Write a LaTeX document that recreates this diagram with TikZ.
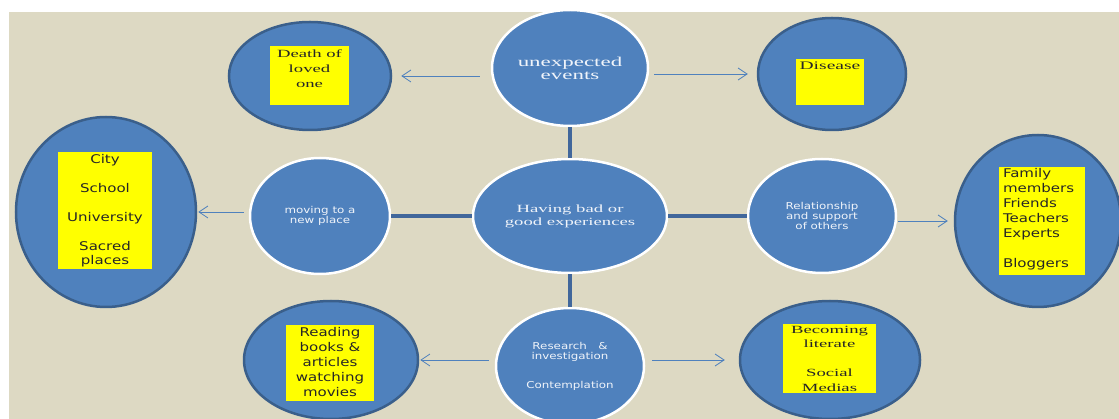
\documentclass[tikz,border=0pt]{standalone}
\usepackage{fontspec}
\newfontfamily\widerm[FakeStretch=1.7]{Liberation Serif}
\newfontfamily\widesf[FakeStretch=1.25]{DejaVu Sans}
\usetikzlibrary{shapes.geometric,arrows.meta}
\definecolor{paper}{HTML}{DDD9C3}
\definecolor{bubble}{HTML}{4F81BD}
\definecolor{rim}{HTML}{3A5F8B}
\definecolor{spokecol}{HTML}{41679B}
\definecolor{stickycol}{HTML}{FFFF00}
\definecolor{ink}{HTML}{F0F4FA}

\begin{document}
\begin{tikzpicture}[x=1pt,y=-1pt,
    hub/.style={ellipse,fill=bubble,draw=white,line width=2.5pt,inner sep=0pt,text=ink,align=center},
    leaf/.style={ellipse,fill=bubble,draw=rim,line width=2.5pt,inner sep=0pt},
    sticky/.style={rectangle,fill=stickycol,inner sep=0pt},
    stickytext/.style={inner sep=0pt,text=black!85,align=center,anchor=north},
    spoke/.style={draw=spokecol,line width=4pt},
    pointer/.style={draw=bubble,line width=0.8pt,-{Straight Barb[length=9pt,width=12pt]}}]
    \useasboundingbox (0,0) rectangle (1119,419);
    \clip (0,0) rectangle (1119,419);
    \fill[paper] (9,12) rectangle (1119,419);
    % the five white-rimmed circles
    \node[hub, minimum width=156pt, minimum height=116pt, font=\widerm\fontsize{13.5}{13}\selectfont] (unexpected) at (570,68) {unexpected\\events};
    \node[hub, minimum width=194pt, minimum height=114pt, font=\widerm\fontsize{11}{13}\selectfont] (experience) at (570,216) {Having bad or\\good experiences};
    \node[hub, minimum width=140pt, minimum height=116pt, font=\widesf\fontsize{9.5}{10.5}\selectfont] (moving) at (320,216) {moving to a\\new place};
    \node[hub, minimum width=148pt, minimum height=114pt, font=\widesf\fontsize{9.5}{10}\selectfont] (relation) at (822,216) {Relationship\\and support\\of others};
    \node[hub, minimum width=148pt, minimum height=116pt, font=\widesf\fontsize{9.5}{10}\selectfont] (research) at (570,366) {Research\ \ \ \&\\investigation\\[19pt]Contemplation};
    \draw[spoke] (unexpected.south) -- (experience.north);
    \draw[spoke] (experience.west) -- (moving.east);
    \draw[spoke] (experience.east) -- (relation.west);
    \draw[spoke] (experience.south) -- (research.north);
    % the six dark-rimmed circles
    \node[leaf, minimum width=162pt, minimum height=108pt] (death) at (310,76) {};
    \node[leaf, minimum width=148pt, minimum height=112pt] (disease) at (832,74) {};
    \node[leaf, minimum width=180pt, minimum height=190pt] (city) at (106,212) {};
    \node[leaf, minimum width=166pt, minimum height=172pt] (family) at (1038,221) {};
    \node[leaf, minimum width=174pt, minimum height=118pt] (reading) at (331,360) {};
    \node[leaf, minimum width=180pt, minimum height=118pt] (literacy) at (830,360) {};
    % yellow notes
    \node[sticky, minimum width=79pt, minimum height=59pt] (deathbox) at (309.5,75.5) {};
    \node[stickytext, font=\widerm\fontsize{11}{15}\selectfont] (deathtxt) at ([yshift=-4pt]deathbox.north) {Death of\\loved\\one};
    \node[sticky, minimum width=68pt, minimum height=46pt] (diseasebox) at (830,82) {};
    \node[stickytext, font=\widerm\fontsize{11.5}{15}\selectfont] (diseasetxt) at ([yshift=-3pt]diseasebox.north) {Disease};
    \node[sticky, minimum width=94pt, minimum height=117pt] (citybox) at (105,210.5) {};
    \node[stickytext, font=\widesf\fontsize{12}{14.5}\selectfont] (citytxt) at ([yshift=-2pt]citybox.north) {City\\[14.5pt]School\\[14.5pt]University\\[14.5pt]Sacred\\places};
    \node[sticky, minimum width=86pt, minimum height=108pt] (familybox) at (1042,221) {};
    \node[stickytext, anchor=north west, align=left, font=\widesf\fontsize{12}{15}\selectfont] (familytxt) at ([xshift=4pt,yshift=-1pt]familybox.north west) {Family\\members\\Friends\\Teachers\\Experts\\[15pt]Bloggers};
    \node[sticky, minimum width=88pt, minimum height=76pt] (readingbox) at (330,363) {};
    \node[stickytext, font=\widesf\fontsize{12}{15}\selectfont] (readingtxt) at ([yshift=-2pt]readingbox.north) {Reading\\books \&\\articles\\watching\\movies};
    \node[sticky, minimum width=93pt, minimum height=69pt] (literacybox) at (829.5,358.5) {};
    \node[stickytext, font=\widerm\fontsize{11}{14.5}\selectfont] (literacytxt) at ([yshift=-2pt]literacybox.north) {Becoming\\literate\\[14.5pt]Social\\Medias};
    % thin arrows out to the examples
    \draw[pointer, shorten <=11pt, shorten >=9pt] (unexpected.west |- death.east) -- (death.east);
    \draw[pointer, shorten <=5pt, shorten >=9pt] (unexpected.east |- disease.west) -- (disease.west);
    \draw[pointer, shorten <=5pt, shorten >=1pt] (moving.west |- city.east) -- (city.east);
    \draw[pointer, shorten <=1pt, shorten >=6pt] (relation.east |- family.west) -- (family.west);
    \draw[pointer, shorten <=6pt, shorten >=1pt] (research.west |- reading.east) -- (reading.east);
    \draw[pointer, shorten <=7pt, shorten >=14pt] (research.east |- literacy.west) -- (literacy.west);
\end{tikzpicture}
\end{document}
